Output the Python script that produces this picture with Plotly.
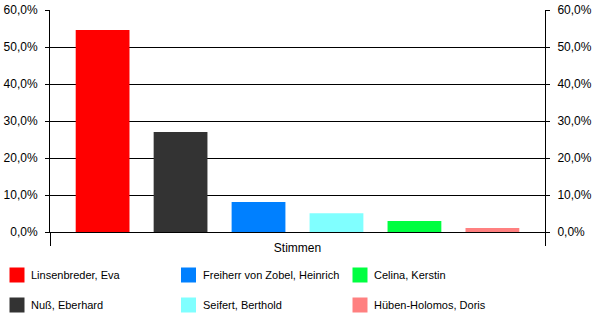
import plotly.graph_objects as go

# Stimmenanteile je Kandidat (Anteil der gültigen Stimmen)
kandidaten = [
    "Linsenbreder, Eva",
    "Nuß, Eberhard",
    "Freiherr von Zobel, Heinrich",
    "Seifert, Berthold",
    "Celina, Kerstin",
    "Hüben-Holomos, Doris",
]
anteile = [0.546, 0.270, 0.081, 0.051, 0.030, 0.011]
farben = ["#FF0000", "#333333", "#0080FF", "#80FFFF", "#00FF40", "#FF8080"]
kategorie = ["Stimmen"]
y_ticks = [0.0, 0.1, 0.2, 0.3, 0.4, 0.5, 0.6]

FONT = "Liberation Sans, Arial, sans-serif"
W, H = 600, 326
M_L, M_R, M_T, M_B = 50, 55, 10, 94
PLOT_W = W - M_L - M_R
PLOT_H = H - M_T - M_B


def px_x(px):
    """Pixel column -> paper x."""
    return (px - M_L) / PLOT_W


def px_y(py):
    """Pixel row (from top) -> paper y."""
    return (H - M_B - py) / PLOT_H


fig = go.Figure()
for name, val, col in zip(kandidaten, anteile, farben):
    fig.add_trace(go.Bar(
        x=kategorie, y=[val], name=name,
        marker=dict(color=col, line=dict(width=0)),
        showlegend=False,
    ))

# empty trace so the secondary (right) percentage axis is drawn
fig.add_trace(go.Scatter(
    x=kategorie, y=[0], yaxis="y2", mode="markers",
    marker=dict(opacity=0), hoverinfo="skip", showlegend=False,
))

# Legend: three columns, two rows, filled column by column
col_left = [9.5, 181, 352.5]
row_center = [275, 305]
swatch = 15
text_gap = 4.5
shapes, annotations = [], []
for i, (name, col) in enumerate(zip(kandidaten, farben)):
    cx = col_left[i // 2]
    cy = row_center[i % 2]
    shapes.append(dict(
        type="rect", xref="paper", yref="paper",
        x0=px_x(cx), x1=px_x(cx + swatch),
        y0=px_y(cy + swatch / 2), y1=px_y(cy - swatch / 2),
        fillcolor=col, line=dict(width=0),
    ))
    annotations.append(dict(
        xref="paper", yref="paper", x=px_x(cx + swatch + text_gap), y=px_y(cy),
        xanchor="left", yanchor="middle", showarrow=False, text=name,
        font=dict(family=FONT, size=11, color="#000000"),
    ))

axis_font = dict(family=FONT, size=12, color="#000000")

fig.update_layout(
    width=W, height=H,
    margin=dict(l=M_L, r=M_R, t=M_T, b=M_B),
    paper_bgcolor="#FFFFFF", plot_bgcolor="#FFFFFF",
    separators=",.",
    barmode="group", bargap=0.055, bargroupgap=0.31,
    showlegend=False,
    shapes=shapes, annotations=annotations,
    xaxis=dict(
        type="category", showgrid=False, showline=True, linecolor="#000000",
        linewidth=1, ticks="outside", tickson="boundaries", ticklen=13,
        tickcolor="#000000", tickwidth=1, tickfont=axis_font,
        ticklabelstandoff=5, automargin=False,
    ),
    yaxis=dict(
        range=[0, 0.6], tickvals=y_ticks, tickformat=".1%",
        showgrid=True, gridcolor="#000000", gridwidth=1,
        showline=True, linecolor="#000000", linewidth=1,
        ticks="outside", ticklen=4, tickcolor="#000000",
        tickfont=axis_font, zeroline=False, automargin=False,
        ticklabelstandoff=5,
    ),
    yaxis2=dict(
        range=[0, 0.6], tickvals=y_ticks, tickformat=".1%",
        overlaying="y", side="right", showgrid=False,
        showline=True, linecolor="#000000", linewidth=1,
        ticks="outside", ticklen=4, tickcolor="#000000",
        tickfont=axis_font, zeroline=False, automargin=False,
        ticklabelstandoff=5,
    ),
)

fig.write_html("out.html")
